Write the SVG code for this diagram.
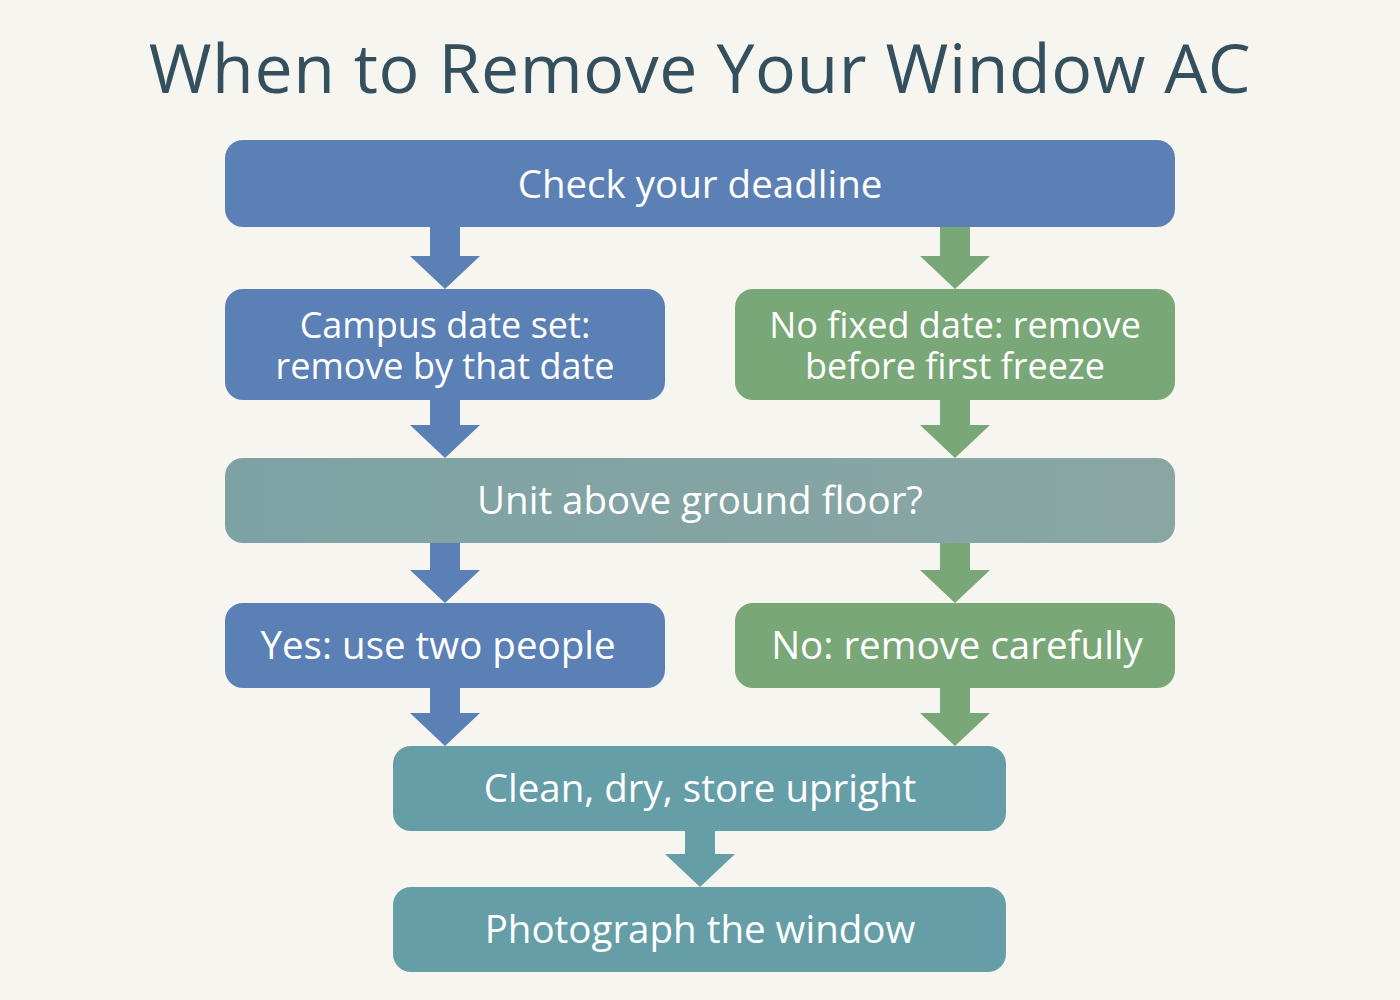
<svg xmlns="http://www.w3.org/2000/svg" width="1400" height="1000" viewBox="0 0 1400 1000">
<style>
.t{font-family:"Open Sans","Noto Sans","Liberation Sans",sans-serif;fill:#ffffff;text-anchor:middle;font-size:36px}
.s{font-size:38.5px}
.title{font-family:"Open Sans","Noto Sans","Liberation Sans",sans-serif;fill:#34505e;text-anchor:middle;font-size:68px;letter-spacing:0.6px}
.blue{fill:#5b80b6}
.green{fill:#7aa777}
.teal{fill:#669ea7}
</style>
<defs>
<linearGradient id="gq" x1="0" x2="1" y1="0" y2="0"><stop offset="0" stop-color="#7ea2a4"/><stop offset="1" stop-color="#89a6a3"/></linearGradient>
</defs>
<rect width="1400" height="1000" fill="#f7f5f0"/>
<text class="title" x="700" y="93">When to Remove Your Window AC</text>
<g id="connectors">
<path class="blue" d="M430 226 H460 V256 H480 L445 289 L410 256 H430 Z"/>
<path class="green" d="M940 226 H970 V256 H990 L955 289 L920 256 H940 Z"/>
<path class="blue" d="M430 399 H460 V425 H480 L445 458 L410 425 H430 Z"/>
<path class="green" d="M940 399 H970 V425 H990 L955 458 L920 425 H940 Z"/>
<path class="blue" d="M430 542 H460 V570 H480 L445 603 L410 570 H430 Z"/>
<path class="green" d="M940 542 H970 V570 H990 L955 603 L920 570 H940 Z"/>
<path class="blue" d="M430 687 H460 V713 H480 L445 746 L410 713 H430 Z"/>
<path class="green" d="M940 687 H970 V713 H990 L955 746 L920 713 H940 Z"/>
<path class="teal" d="M685 830 H715 V854 H735 L700 887 L665 854 H685 Z"/>
</g>
<g id="n1"><rect class="blue" x="225" y="140" width="950" height="87" rx="18"/><text class="t s" x="700" y="198">Check your deadline</text></g>
<g id="n2a"><rect class="blue" x="225" y="289" width="440" height="111" rx="18"/><text class="t" x="445" y="338">Campus date set:</text><text class="t" x="445" y="379">remove by that date</text></g>
<g id="n2b"><rect class="green" x="735" y="289" width="440" height="111" rx="18"/><text class="t" x="955" y="338">No fixed date: remove</text><text class="t" x="955" y="379">before first freeze</text></g>
<g id="n3"><rect x="225" y="458" width="950" height="85" rx="18" fill="url(#gq)"/><text class="t s" x="700" y="514">Unit above ground floor?</text></g>
<g id="n4a"><rect class="blue" x="225" y="603" width="440" height="85" rx="18"/><text class="t s" x="438" y="659">Yes: use two people</text></g>
<g id="n4b"><rect class="green" x="735" y="603" width="440" height="85" rx="18"/><text class="t s" x="957" y="659">No: remove carefully</text></g>
<g id="n5"><rect class="teal" x="393" y="746" width="613" height="85" rx="18"/><text class="t s" x="700" y="802">Clean, dry, store upright</text></g>
<g id="n6"><rect class="teal" x="393" y="887" width="613" height="85" rx="18"/><text class="t s" x="700" y="943">Photograph the window</text></g>
</svg>
